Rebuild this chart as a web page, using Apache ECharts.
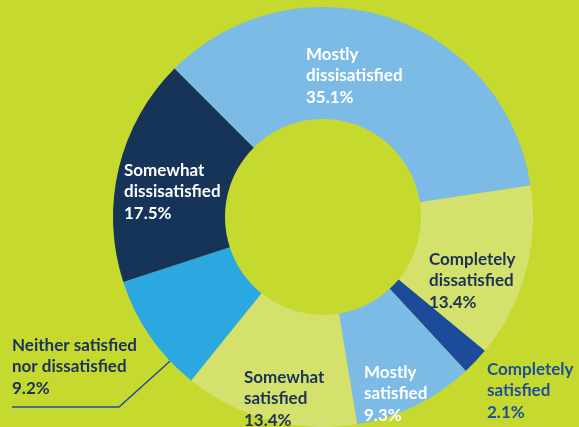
<!DOCTYPE html>
<html>
<head>
<meta charset="utf-8">
<script src="https://cdn.jsdelivr.net/npm/echarts@6/dist/echarts.min.js"></script>
<style>
  html, body { margin: 0; padding: 0; background: #c5d92e; }
  #chart { width: 579px; height: 427px; }
</style>
</head>
<body>
<div id="chart"></div>
<script>
(function () {
    'use strict';

    // satisfaction shares, clockwise from the top-left
    var categories = [
        'Mostly\ndissisatisfied',
        'Completely\ndissatisfied',
        'Completely\nsatisfied',
        'Mostly\nsatisfied',
        'Somewhat\nsatisfied',
        'Neither satisfied\nnor dissatisfied',
        'Somewhat\ndissisatisfied'
    ];
    var shares = [35.1, 13.4, 2.1, 9.3, 13.4, 9.2, 17.5];

    var sliceColors = ['#7bbbe6', '#d5e16d', '#1c4b9a', '#7bbbe6', '#d5e16d', '#2ba8e0', '#163358'];
    var textColors = ['#ffffff', '#1b3157', '#1f4e9c', '#ffffff', '#1b3157', '#1b3157', '#ffffff'];

    var CX = 323, CY = 217, R_IN = 98, R_OUT = 210;
    // where the designer put each text block (left edge, middle)
    var labelAt = [[306, 76], [429, 281], [487, 391], [364, 394], [244, 399], [12, 367], [124, 192]];

    var chart = echarts.init(document.getElementById('chart'), null, { renderer: 'canvas' });

    var data = shares.map(function (v, i) {
        var item = {
            name: categories[i],
            value: v,
            itemStyle: { color: sliceColors[i] },
            label: { color: textColors[i] }
        };
        if (i === 5) {
            item.label.position = 'outside';
            item.labelLine = { show: true, lineStyle: { color: '#1f4e9c', width: 1.5 } };
        }
        return item;
    });

    chart.setOption({
        backgroundColor: '#c5d92e',
        animation: false,
        series: [{
            type: 'pie',
            center: [CX, CY],
            radius: [R_IN, R_OUT],
            startAngle: 135,
            clockwise: true,
            avoidLabelOverlap: false,
            itemStyle: { borderWidth: 0 },
            label: {
                show: true,
                position: 'inside',
                fontFamily: 'Lato',
                fontWeight: 'bold',
                fontSize: 17,
                lineHeight: 21.5,
                align: 'left',
                formatter: function (p) {
                    return p.name + '\n' + p.value.toFixed(1) + '%';
                }
            },
            labelLine: { show: false },
            labelLayout: function (p) {
                var pos = labelAt[p.dataIndex];
                var out = { x: pos[0], y: pos[1], align: 'left', verticalAlign: 'middle' };
                if (p.dataIndex === 5) {
                    var a = -136.7 * Math.PI / 180;
                    out.labelLinePoints = [
                        [CX + R_OUT * Math.cos(a), CY - R_OUT * Math.sin(a)],
                        [119, 407],
                        [12, 407]
                    ];
                }
                return out;
            },
            emphasis: { disabled: true },
            data: data
        }]
    });
})();
</script>
</body>
</html>
